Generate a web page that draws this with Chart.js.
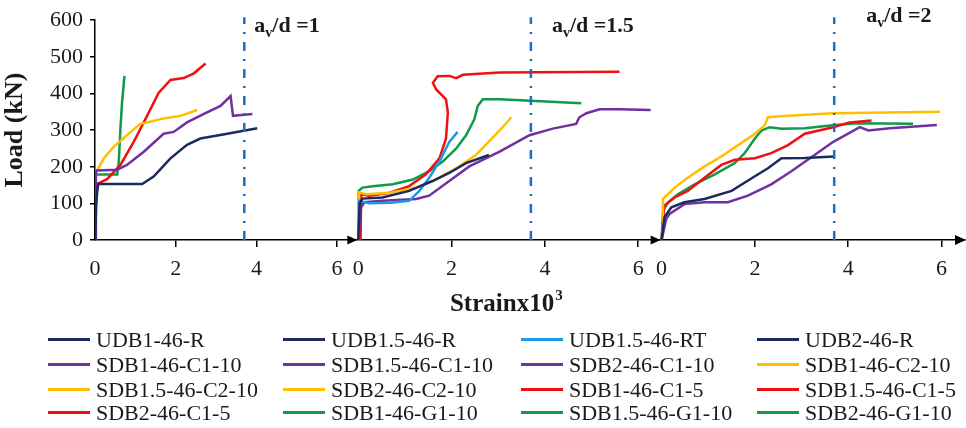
<!DOCTYPE html>
<html>
<head>
<meta charset="utf-8">
<script src="https://cdn.jsdelivr.net/npm/chart.js@4"></script>
<style>
  html, body { margin: 0; padding: 0; background: #fff; }
  #wrap { position: relative; width: 966px; height: 428px; }
  #chart { position: absolute; left: 0; top: 0; }
  #legend { position: absolute; left: 0; top: 0; width: 966px; height: 428px; pointer-events: none;
    font-family: "Liberation Serif", "Times New Roman", serif; font-size: 22px; color: #1a1a1a; }
  .item { position: absolute; white-space: nowrap; height: 24px; line-height: 24px; }
  .swatch { display: inline-block; width: 42px; height: 3px; vertical-align: middle; margin-right: 6px; position: relative; top: -2px; }
</style>
</head>
<body>
<div id="wrap">
  <canvas id="chart" width="966" height="320"></canvas>
  <div id="legend"></div>
</div>
<script>
// series names, in legend order
const seriesNames = [
  'UDB1-46-R', 'UDB1.5-46-R', 'UDB1.5-46-RT', 'UDB2-46-R',
  'SDB1-46-C1-10', 'SDB1.5-46-C1-10', 'SDB2-46-C1-10', 'SDB1-46-C2-10',
  'SDB1.5-46-C2-10', 'SDB2-46-C2-10', 'SDB1-46-C1-5', 'SDB1.5-46-C1-5',
  'SDB2-46-C1-5', 'SDB1-46-G1-10', 'SDB1.5-46-G1-10', 'SDB2-46-G1-10'
];
// which a_v/d panel each series belongs to (0: 1, 1: 1.5, 2: 2)
const seriesPanel = [0, 1, 1, 2, 0, 1, 2, 0, 1, 2, 0, 1, 2, 0, 1, 2];

// [strain x10^3, load kN]
const udb1R = [[0,0],[0.03,95],[0.05,125],[0.08,153],[0.6,153],[1.17,153],[1.46,174],[1.87,223],[2.28,260],[2.61,277],[3.28,290],[4.02,305]];
const udb15R = [[0,0],[0.03,100],[0.09,113],[0.52,116],[1.09,134],[1.59,161],[1.95,183],[2.31,210],[2.8,232]];
const udb15RT = [[0,0],[0.02,107],[0.24,100],[0.7,102],[1.09,107],[1.31,134],[1.52,170],[1.74,214],[1.95,268],[2.13,295]];
const udb2R = [[0,0],[0.06,62],[0.21,89],[0.49,103],[0.92,112],[1.5,134],[2.0,174],[2.28,196],[2.57,223],[3.07,224],[3.7,228]];
const sdb1C110 = [[0,0],[0.02,185],[0.05,190],[0.55,192],[0.79,205],[1.21,241],[1.7,290],[1.95,295],[2.28,321],[2.7,344],[3.11,366],[3.36,393],[3.42,339],[3.9,344]];
const sdb15C110 = [[0,0],[0.06,89],[0.13,103],[0.52,107],[1.24,112],[1.52,121],[1.95,161],[2.38,201],[3.03,241],[3.67,286],[4.17,304],[4.67,317],[4.74,335],[4.89,346],[5.17,357],[5.6,357],[6.27,355]];
const sdb2C110 = [[0,0],[0.1,58],[0.17,71],[0.49,98],[0.92,103],[1.42,103],[1.85,121],[2.35,152],[2.75,185],[3.18,223],[3.68,268],[4.25,308],[4.43,299],[4.89,305],[5.9,314]];
const sdb1C210 = [[0,0],[0.02,183],[0.22,223],[0.46,254],[0.79,286],[1.12,317],[1.29,321],[1.62,330],[2.12,339],[2.53,355]];
const sdb15C210 = [[0,0],[0.02,130],[0.16,125],[0.67,129],[1.24,143],[1.67,165],[2.1,196],[2.52,232],[3.03,299],[3.28,335]];
const sdb2C210 = [[0,0],[0.02,27],[0.03,112],[0.06,116],[0.28,143],[0.56,170],[0.92,201],[1.28,228],[1.64,259],[2.0,290],[2.21,313],[2.28,335],[2.71,339],[3.67,346],[5.97,350]];
const sdb1C15 = [[0,0],[0.03,150],[0.05,153],[0.3,166],[0.63,205],[0.96,268],[1.29,339],[1.58,402],[1.87,437],[2.2,442],[2.45,455],[2.74,482]];
const sdb15C15 = [[0.05,0],[0.06,125],[0.24,121],[0.67,129],[1.09,147],[1.45,179],[1.74,223],[1.88,277],[1.92,348],[1.88,384],[1.67,411],[1.6,429],[1.7,447],[1.95,448],[2.1,442],[2.24,451],[3.03,457],[5.6,459]];
const sdb2C15 = [[0,0],[0.06,94],[0.28,116],[0.56,134],[0.92,170],[1.28,205],[1.57,219],[2.0,223],[2.35,237],[2.71,259],[3.07,290],[3.68,308],[4.03,321],[4.5,326]];
const sdb1G110 = [[0,0],[0.02,179],[0.55,179],[0.59,214],[0.63,304],[0.67,375],[0.73,448]];
const sdb15G110 = [[0,0],[0.01,134],[0.09,143],[0.31,147],[0.74,152],[1.17,165],[1.52,188],[1.81,214],[2.1,250],[2.31,286],[2.49,330],[2.56,366],[2.67,384],[3.03,384],[4.78,373]];
const sdb2G110 = [[0,0],[0.03,80],[0.14,103],[0.35,125],[0.71,152],[1.14,179],[1.57,210],[1.78,237],[2.0,277],[2.14,299],[2.32,308],[2.57,304],[3.07,305],[3.67,313],[4.18,319],[5.39,317]];

const seriesData = [udb1R, udb15R, udb15RT, udb2R, sdb1C110, sdb15C110, sdb2C110, sdb1C210,
  sdb15C210, sdb2C210, sdb1C15, sdb15C15, sdb2C15, sdb1G110, sdb15G110, sdb2G110];

const xTickStrains = [0, 2, 4, 6];
const ratioLabels = ['1', '1.5', '2'];
const limitStrain = 3.7;

// layout of the three panels along one shared x axis
const panelOrigin = [0, 5.644, 12.146];
const panelScale = [0.865, 1, 1];
const xMax = 18.65;
const toAxis = (p, s) => panelOrigin[p] + s * panelScale[p];

const NAVY = '#1c2b5e', LBLUE = '#1d9ae6', PURPLE = '#7030a0', ORANGE = '#ffbf00', RED = '#f01010', GREEN = '#0f9a48';
const seriesColor = [NAVY, NAVY, LBLUE, NAVY, PURPLE, PURPLE, PURPLE, ORANGE, ORANGE, ORANGE, RED, RED, RED, GREEN, GREEN, GREEN];

const SERIF = '"Liberation Serif", "Times New Roman", serif';
const INK = '#1a1a1a';

const panelMarks = {
  id: 'panelMarks',
  afterDraw(chart) {
    const {ctx, chartArea, scales: {x, y}} = chart;
    const y0 = y.getPixelForValue(0);
    const labelPos = [[10, 32], [21, 32], [32, 22]];
    ctx.save();
    panelOrigin.forEach((_, p) => {
      // a_v/d limit line
      const px = x.getPixelForValue(toAxis(p, limitStrain));
      ctx.strokeStyle = '#1b6ec2';
      ctx.lineWidth = 2.5;
      ctx.setLineDash([9, 8, 2, 8]);
      ctx.beginPath();
      ctx.moveTo(px, y0);
      ctx.lineTo(px, chartArea.top - 3);
      ctx.stroke();
      ctx.setLineDash([]);

      // label
      let lx = px + labelPos[p][0];
      const by = labelPos[p][1];
      ctx.fillStyle = INK;
      ctx.textBaseline = 'alphabetic';
      ctx.textAlign = 'left';
      ctx.font = 'bold 22px ' + SERIF;
      ctx.fillText('a', lx, by);
      lx += ctx.measureText('a').width;
      ctx.font = 'bold 14px ' + SERIF;
      ctx.fillText('v', lx, by + 5);
      lx += ctx.measureText('v').width;
      ctx.font = 'bold 22px ' + SERIF;
      ctx.fillText('/d =' + ratioLabels[p], lx, by);

      // arrow heads at the start of panels 2 and 3
      if (p > 0) {
        const ox = x.getPixelForValue(panelOrigin[p]) - 1;
        ctx.fillStyle = '#000';
        ctx.beginPath();
        ctx.moveTo(ox, y0);
        ctx.lineTo(ox - 10, y0 - 4.5);
        ctx.lineTo(ox - 10, y0 + 4.5);
        ctx.closePath();
        ctx.fill();
      }
    });

    // arrow at the end of the x axis
    const ex = chartArea.right + 1;
    ctx.fillStyle = '#000';
    ctx.beginPath();
    ctx.moveTo(ex, y0);
    ctx.lineTo(ex - 11, y0 - 5);
    ctx.lineTo(ex - 11, y0 + 5);
    ctx.closePath();
    ctx.fill();

    // x title, under the middle panel
    ctx.fillStyle = INK;
    ctx.font = 'bold 25px ' + SERIF;
    const tx = chartArea.left + 0.408 * (chartArea.right - chartArea.left);
    ctx.fillText('Strainx10', tx, 311);
    const tw = ctx.measureText('Strainx10').width;
    ctx.font = 'bold 15px ' + SERIF;
    ctx.fillText('3', tx + tw + 1, 300);
    ctx.restore();
  }
};

const xTickValues = panelOrigin.flatMap((_, p) => xTickStrains.map(s => toAxis(p, s)));

new Chart(document.getElementById('chart'), {
  type: 'line',
  data: {
    datasets: seriesNames.map((name, i) => ({
      label: name,
      data: seriesData[i].map(([s, l]) => ({x: toAxis(seriesPanel[i], s), y: l})),
      borderColor: seriesColor[i],
      backgroundColor: seriesColor[i],
      borderWidth: 2.5,
      pointRadius: 0,
      tension: 0,
      fill: false
    }))
  },
  options: {
    responsive: false,
    animation: false,
    devicePixelRatio: 1,
    layout: { padding: { top: 16, right: 1, left: 0, bottom: 0 } },
    plugins: { legend: { display: false }, tooltip: { enabled: false } },
    scales: {
      x: {
        type: 'linear',
        min: 0,
        max: xMax,
        afterBuildTicks(scale) { scale.ticks = xTickValues.map(v => ({value: v})); },
        afterFit(scale) { scale.height = 80; },
        ticks: {
          autoSkip: false,
          maxRotation: 0,
          padding: 9,
          color: INK,
          font: { family: SERIF, size: 22 },
          callback: (v, i) => xTickStrains[i % xTickStrains.length]
        },
        grid: {
          drawOnChartArea: false,
          tickLength: 7,
          lineWidth: 1.5,
          color: c => (c.index % xTickStrains.length === 0 ? 'rgba(0,0,0,0)' : '#000')
        },
        border: { color: '#000', width: 1.5 }
      },
      y: {
        min: 0,
        max: 600,
        afterFit(scale) { scale.width = 95; },
        ticks: { stepSize: 100, padding: 7, color: INK, font: { family: SERIF, size: 22 } },
        grid: { drawOnChartArea: false, tickLength: 5, lineWidth: 1.5, color: '#000' },
        border: { color: '#000', width: 1.5 },
        title: { display: true, text: 'Load (kN)', color: INK, padding: { top: 0, bottom: 0 },
          font: { family: SERIF, size: 26, weight: 'bold' } }
      }
    }
  },
  plugins: [panelMarks]
});

// legend in four columns, built from the series names and colours
const legendCols = [48, 283, 521, 757];
const legendRows = [328, 353, 378, 401];
const legend = document.getElementById('legend');
seriesNames.forEach((name, i) => {
  const item = document.createElement('div');
  item.className = 'item';
  item.style.left = legendCols[i % 4] + 'px';
  item.style.top = legendRows[Math.floor(i / 4)] + 'px';
  item.innerHTML = '<span class="swatch" style="background:' + seriesColor[i] + '"></span>' + name;
  legend.appendChild(item);
});
</script>
</body>
</html>
